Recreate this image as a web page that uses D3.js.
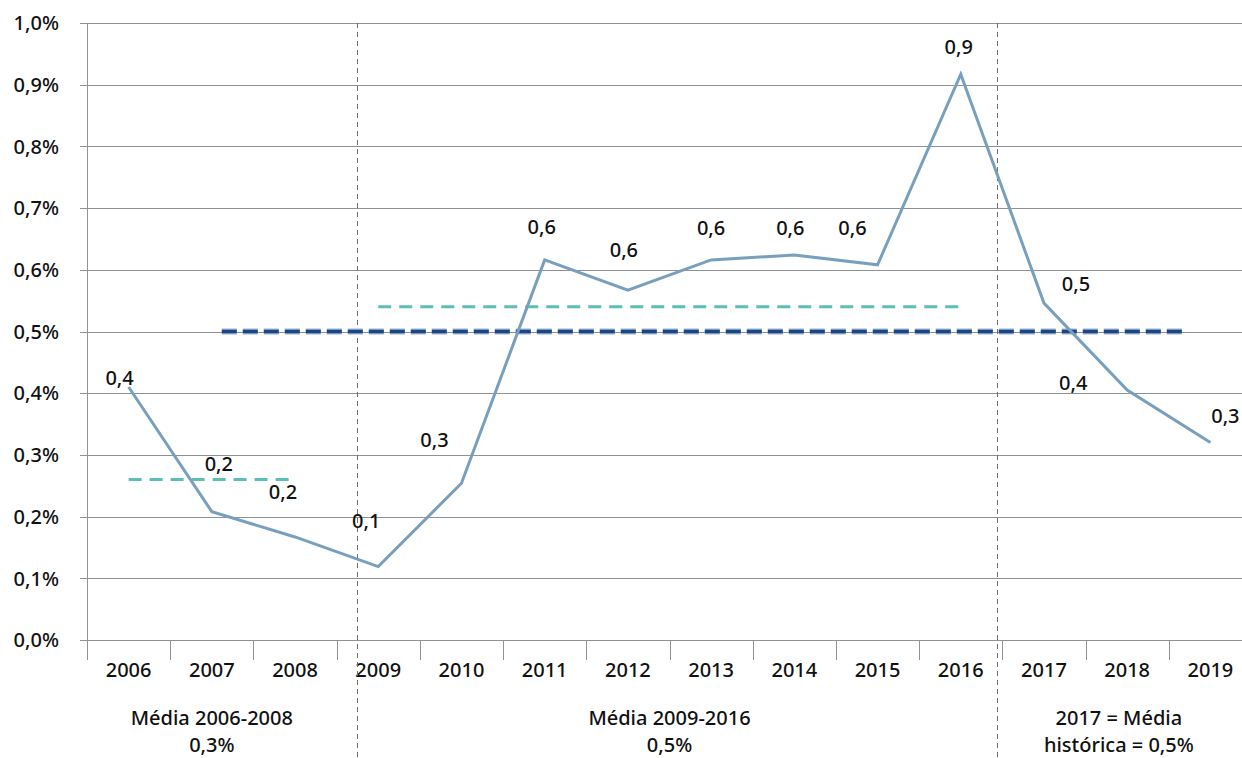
<!DOCTYPE html>
<html>
<head>
<meta charset="utf-8">
<script src="https://cdn.jsdelivr.net/npm/d3@7"></script>
<style>
  html, body { margin: 0; padding: 0; background: #fff; }
  svg { display: block; font-family: "Noto Sans", "Open Sans", sans-serif; }
</style>
</head>
<body>
<svg id="chart" width="1242" height="758"></svg>
<script>
// Annual rate, in percent
const years = ["2006","2007","2008","2009","2010","2011","2012","2013","2014","2015","2016","2017","2018","2019"];
const rates = [0.41, 0.208, 0.167, 0.119, 0.254, 0.616, 0.567, 0.616, 0.624, 0.608, 0.917, 0.546, 0.405, 0.32];
const pointLabels = ["0,4","0,2","0,2","0,1","0,3","0,6","0,6","0,6","0,6","0,6","0,9","0,5","0,4","0,3"];
// label centre offsets from each point (px)
const labelOffsets = [[-9,-9],[7,-48],[-12,-45],[-12,-46],[-27,-43],[-3,-33],[-4,-40],[0,-32],[-4,-27],[-25,-37],[-2,-27],[32,-19],[-54,-7],[15,-27]];

const yTicks = [0, 0.1, 0.2, 0.3, 0.4, 0.5, 0.6, 0.7, 0.8, 0.9, 1.0];

// Period averages: [start index, end index, value]
const avg2006_2008 = [0, 1.95, 0.26];
const avg2009_2016 = [3, 10, 0.54];
const avgHistoric  = [1.12, 12.72, 0.5];

// Period separators (position in category units) and captions
const separators = [3.245, 10.94];
const captions = [
  { at: 1, lines: ["Média 2006-2008", "0,3%"] },
  { at: 6.5, lines: ["Média 2009-2016", "0,5%"] },
  { at: 11.9, lines: ["2017 = Média", "histórica = 0,5%"] }
];

const svg = d3.select("#chart");
const plotLeft = 87, plotRight = 1252, plotTop = 23, plotBottom = 640;
const fontSize = 20, fontWeight = 500, textColor = "#111";

const x = d3.scaleBand().domain(years).range([plotLeft, plotRight]).padding(0);
const bw = x.bandwidth();
const xi = i => plotLeft + (i + 0.5) * bw;
const y = d3.scaleLinear().domain([0, 1.0]).range([plotBottom, plotTop]);

const fmtPct = d => d3.format(".1f")(d).replace(".", ",") + "%";

// horizontal gridlines
svg.append("g").selectAll("line").data(yTicks).join("line")
  .attr("x1", plotLeft - 7).attr("x2", 1242)
  .attr("y1", d => Math.round(y(d)) + 0.5).attr("y2", d => Math.round(y(d)) + 0.5)
  .attr("stroke", "#8e9196").attr("stroke-width", 1);

// y axis labels
svg.append("g").selectAll("text").data(yTicks).join("text")
  .attr("x", 59).attr("y", d => y(d)).attr("dy", "0.36em")
  .attr("text-anchor", "end")
  .attr("font-size", fontSize).attr("font-weight", fontWeight).attr("fill", textColor)
  .text(fmtPct);

// y axis line
svg.append("line")
  .attr("x1", plotLeft + 0.5).attr("x2", plotLeft + 0.5)
  .attr("y1", plotTop).attr("y2", plotBottom + 12)
  .attr("stroke", "#8e9196");

// category boundary ticks
svg.append("g").selectAll("line").data(d3.range(years.length + 1)).join("line")
  .attr("x1", i => Math.round(plotLeft + i * bw) + 0.5).attr("x2", i => Math.round(plotLeft + i * bw) + 0.5)
  .attr("y1", plotBottom).attr("y2", plotBottom + 20)
  .attr("stroke", "#8e9196");

// year labels
svg.append("g").selectAll("text").data(years).join("text")
  .attr("x", d => x(d) + bw / 2).attr("y", 670).attr("dy", "0.36em")
  .attr("text-anchor", "middle")
  .attr("font-size", fontSize).attr("font-weight", fontWeight).attr("fill", textColor)
  .text(d => d);

// period separators
svg.append("g").selectAll("line").data(separators).join("line")
  .attr("x1", s => Math.round(plotLeft + s * bw) + 0.5).attr("x2", s => Math.round(plotLeft + s * bw) + 0.5)
  .attr("y1", plotTop).attr("y2", 758)
  .attr("stroke", "#6e6e6e").attr("stroke-width", 1)
  .attr("stroke-dasharray", "5,4");

// period captions
captions.forEach(c => {
  const t = svg.append("text")
    .attr("x", xi(c.at)).attr("y", 725)
    .attr("text-anchor", "middle")
    .attr("font-size", fontSize).attr("font-weight", fontWeight).attr("fill", textColor);
  c.lines.forEach((ln, k) => {
    t.append("tspan").attr("x", xi(c.at)).attr("dy", k === 0 ? 0 : 27).text(ln);
  });
});

// historic average: light edge under a dark navy dash
const hist = [[avgHistoric[0], avgHistoric[2]], [avgHistoric[1], avgHistoric[2]]];
const avgLine = d3.line().x(d => xi(d[0])).y(d => y(d[1]));
svg.append("path").datum(hist).attr("d", avgLine)
  .attr("fill", "none").attr("stroke", "#9db4d0").attr("stroke-width", 6)
  .attr("stroke-dasharray", "15,6");
svg.append("path").datum(hist).attr("d", avgLine)
  .attr("fill", "none").attr("stroke", "#1c4684").attr("stroke-width", 3.5)
  .attr("stroke-dasharray", "15,6");

// period averages (teal dashed)
[avg2006_2008, avg2009_2016].forEach(a => {
  svg.append("path").datum([[a[0], a[2]], [a[1], a[2]]]).attr("d", avgLine)
    .attr("fill", "none").attr("stroke", "#5bbfb7").attr("stroke-width", 3)
    .attr("stroke-dasharray", "13,8");
});

// main series
svg.append("path").datum(rates)
  .attr("d", d3.line().x((d, i) => xi(i)).y(d => y(d)))
  .attr("fill", "none").attr("stroke", "#789fbd").attr("stroke-width", 3)
  .attr("stroke-linejoin", "miter");

// point labels
svg.append("g").selectAll("text").data(rates).join("text")
  .attr("x", (d, i) => xi(i) + labelOffsets[i][0])
  .attr("y", (d, i) => y(d) + labelOffsets[i][1]).attr("dy", "0.36em")
  .attr("text-anchor", "middle")
  .attr("font-size", fontSize).attr("font-weight", fontWeight).attr("fill", textColor)
  .text((d, i) => pointLabels[i]);
</script>
</body>
</html>
